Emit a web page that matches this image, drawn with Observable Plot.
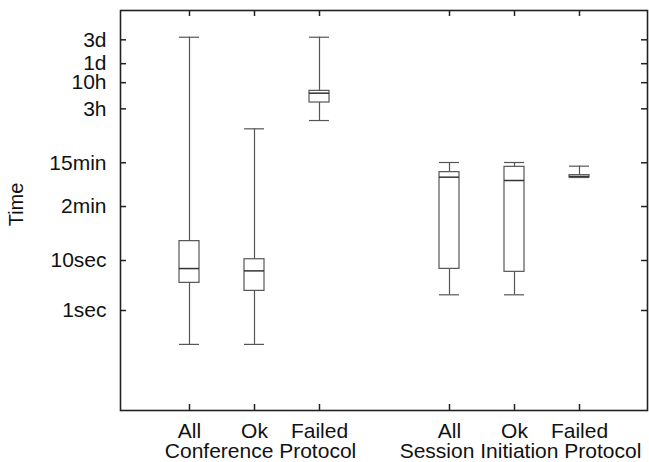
<!DOCTYPE html>
<html>
<head>
<meta charset="utf-8">
<script src="https://cdn.jsdelivr.net/npm/d3@7"></script>
<script src="https://cdn.jsdelivr.net/npm/@observablehq/plot@0.6"></script>
<style>
  html, body { margin: 0; padding: 0; background: #fff; }
  #chart svg { display: block; }
</style>
</head>
<body>
<div id="chart"></div>
<script>
// Category keys (x slots, "gap" separates the two protocol groups)
const keys = ["c-all", "c-ok", "c-failed", "gap", "s-all", "s-ok", "s-failed"];
const boxKeys = ["c-all", "c-ok", "c-failed", "s-all", "s-ok", "s-failed"];
const tickLabels = ["All", "Ok", "Failed", "All", "Ok", "Failed"];
const groupKeys = ["c-ok", "s-ok"];
const groupLabels = ["Conference Protocol", "Session Initiation Protocol"];

// Box statistics, in seconds
const whiskerLow  = [0.21, 0.21, 6300, 2.06, 2.06, 457];
const q1          = [3.57, 2.47, 14450, 6.8, 5.93, 457];
const median      = [6.9, 6.2, 22200, 464, 398, 479];
const q3          = [24.4, 10.6, 24700, 585, 747, 509];
const whiskerHigh = [292000, 4300, 292000, 912, 912, 770];

// Y axis ticks (seconds) and labels
const yTicks = [1, 10, 120, 900, 10800, 36000, 86400, 259200];
const yTickLabels = ["1sec", "10sec", "2min", "15min", "3h", "10h", "1d", "3d"];

const boxes = boxKeys.map((k, i) => ({
  key: k, lo: whiskerLow[i], q1: q1[i], med: median[i], q3: q3[i], hi: whiskerHigh[i]
}));
const groups = groupKeys.map((k, i) => ({key: k, label: groupLabels[i]}));
const xTicks = boxKeys.map((k, i) => ({key: k, label: tickLabels[i]}));
const yTickData = yTicks.map((t, i) => ({t, label: yTickLabels[i]}));

const font = "Liberation Sans, Arial, Helvetica, sans-serif";
const boxColor = "#555";
const axisColor = "#222";
const textColor = "#111";

const W = 649, H = 462, mL = 120, mR = 2, mT = 10, mB = 52;
const frameW = W - mL - mR, frameH = H - mT - mB, tickLen = 6;

const chart = Plot.plot({
  width: W,
  height: H,
  marginLeft: mL,
  marginRight: mR,
  marginTop: mT,
  marginBottom: mB,
  style: {fontFamily: font, fontSize: "21px", color: textColor, background: "#fff"},
  x: {type: "band", domain: keys, paddingInner: 0.697, paddingOuter: 0.848, axis: null},
  y: {type: "log", domain: [0.01, 1e6], axis: null},
  marks: [
    // whiskers
    Plot.ruleX(boxes, {x: "key", y1: "lo", y2: "hi", stroke: boxColor, strokeWidth: 1.2}),
    // boxes
    Plot.barY(boxes, {x: "key", y1: "q1", y2: "q3", fill: "white", stroke: boxColor, strokeWidth: 1.2}),
    // medians
    Plot.tickY(boxes, {x: "key", y: "med", stroke: "#333", strokeWidth: 1.5}),
    // whisker caps
    Plot.tickY(boxes, {x: "key", y: "lo", stroke: boxColor, strokeWidth: 1.2}),
    Plot.tickY(boxes, {x: "key", y: "hi", stroke: boxColor, strokeWidth: 1.2}),
    // inward tick marks on all four sides
    Plot.ruleY(yTickData, {y: "t", insetRight: frameW - tickLen, stroke: axisColor, strokeWidth: 1.5}),
    Plot.ruleY(yTickData, {y: "t", insetLeft: frameW - tickLen, stroke: axisColor, strokeWidth: 1.5}),
    Plot.ruleX(xTicks, {x: "key", insetTop: frameH - tickLen, stroke: axisColor, strokeWidth: 1.5}),
    Plot.ruleX(xTicks, {x: "key", insetBottom: frameH - tickLen, stroke: axisColor, strokeWidth: 1.5}),
    // y tick labels
    Plot.text(yTickData, {y: "t", text: "label", frameAnchor: "left", textAnchor: "end", dx: -14, fontSize: 21, fill: textColor}),
    // x tick labels (first line)
    Plot.text(xTicks, {x: "key", text: "label", frameAnchor: "bottom", lineAnchor: "top", dy: 13, fontSize: 21, fill: textColor}),
    // group labels (second line)
    Plot.text(groups, {x: "key", text: "label", frameAnchor: "bottom", lineAnchor: "top", dy: 33, dx: 6, fontSize: 21, fill: textColor}),
    // y axis title
    Plot.text(["Time"], {frameAnchor: "left", textAnchor: "middle", rotate: -90, dx: -104, dy: -6, fontSize: 20, fill: textColor, text: d => d}),
    Plot.frame({stroke: axisColor, strokeWidth: 1.6})
  ]
});

document.getElementById("chart").appendChild(chart);
</script>
</body>
</html>
